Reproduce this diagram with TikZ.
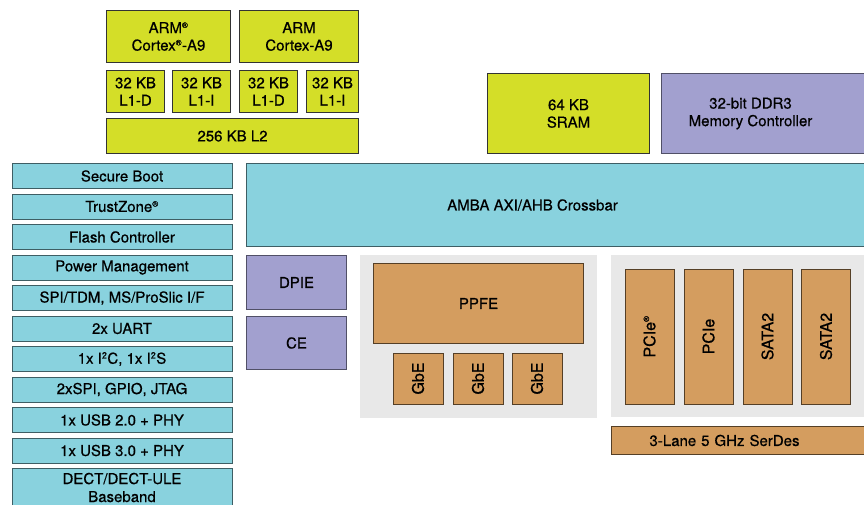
\documentclass[tikz,border=0pt]{standalone}
\usepackage{fontspec}
\setmainfont{TeX Gyre Heros}
\newfontfamily\blkfont{TeX Gyre Heros}[FakeBold=0.6]
\usepackage{xcolor}
\usepackage{tikz}
\usetikzlibrary{positioning}
\definecolor{lime}{HTML}{D4DE28}
\definecolor{aqua}{HTML}{89D2DE}
\definecolor{lilac}{HTML}{A2A0CF}
\definecolor{ochre}{HTML}{D49D5F}
\definecolor{panelbg}{HTML}{E8E8E8}
\tikzstyle{blk} = [rectangle, anchor=north west, inner sep=0pt, align=center, text=black, font=\blkfont\fontsize{15}{17.5}\selectfont, line width=1pt]
\tikzstyle{cpu} = [blk, fill=lime, draw=black!80]
\tikzstyle{bus} = [blk, fill=aqua, draw=aqua!45!black]
\tikzstyle{acc} = [blk, fill=lilac, draw=lilac!50!black]
\tikzstyle{eng} = [blk, fill=ochre, draw=ochre!40!black]
\tikzstyle{port} = [blk, anchor=center, fill=ochre, draw=ochre!40!black, font=\blkfont\fontsize{16}{18}\selectfont]
\tikzstyle{periph} = [bus, anchor=north, minimum width=220, minimum height=25]
\tikzstyle{panel} = [rectangle, anchor=north west, fill=panelbg, draw=none, inner sep=0pt]
\tikzstyle{offlabel} = [font=\blkfont\fontsize{15}{17.5}\selectfont, align=center, inner sep=0pt]
\newcommand{\reg}{\textsuperscript{\fontsize{8}{8}\selectfont\textregistered}}
\newcommand{\sq}{\textsuperscript{\fontsize{9}{9}\selectfont 2}}

\begin{document}
\begin{tikzpicture}[x=1pt, y=-1pt]
    \useasboundingbox (0,0) rectangle (864,504);

    % CPU cluster
    \node (arma) [cpu, minimum width=124, minimum height=52] at (106,10) {ARM\reg\\Cortex\reg-A9};
    \node (armb) [cpu, minimum width=119, minimum height=52] at (239,10) {ARM\\Cortex-A9};
    \node (ldA) [cpu, minimum width=58, minimum height=42] at (106,70) {32 KB\\L1-D};
    \node (liA) [cpu, minimum width=58, minimum height=42] at (172,70) {32 KB\\L1-I};
    \node (ldB) [cpu, minimum width=58, minimum height=42] at (239,70) {32 KB\\L1-D};
    \node (liB) [cpu, minimum width=52, minimum height=42] at (306,70) {32 KB\\L1-I};
    \node (ltwo) [cpu, minimum width=252, minimum height=35] at (106,118) {256 KB L2};

    % Memory
    \node (sram) [cpu, minimum width=162, minimum height=80] at (487,73) {64 KB\\SRAM};
    \node (ddr) [acc, minimum width=210, minimum height=80,
        label={[offlabel, xshift=-16pt]center:32-bit DDR3\\Memory Controller}] at (661,73) {};

    % Crossbar
    \node (xbar) [bus, minimum width=624, minimum height=83,
        label={[offlabel, xshift=-26pt]center:AMBA AXI/AHB Crossbar}] at (246,163) {};

    % Peripherals
    \node (sboot) [periph] at (122,163) {Secure Boot};
    \node (tzone) [periph, below=4.5pt of sboot] {TrustZone\reg};
    \node (flash) [periph, below=4.5pt of tzone] {Flash Controller};
    \node (power) [periph, below=4.5pt of flash] {Power Management};
    \node (spi) [periph, below=4.5pt of power] {SPI/TDM, MS/ProSlic I/F};
    \node (uart) [periph, below=4.5pt of spi] {2x UART};
    \node (iic) [periph, below=4.5pt of uart] {1x I\sq C, 1x I\sq S};
    \node (gpio) [periph, below=4.5pt of iic] {2xSPI, GPIO, JTAG};
    \node (usbii) [periph, below=4.5pt of gpio] {1x USB 2.0 + PHY};
    \node (usbiii) [periph, below=4.5pt of usbii] {1x USB 3.0 + PHY};
    \node (dect) [periph, below=4.5pt of usbiii, minimum height=38, font=\blkfont\fontsize{15}{18}\selectfont] {DECT/DECT-ULE\\Baseband};

    % Accelerators
    \node (dpie) [acc, minimum width=100, minimum height=54] at (246,255) {DPIE};
    \node (ce) [acc, minimum width=100, minimum height=53] at (246,316) {CE};

    % Packet engine
    \node (pktpanel) [panel, minimum width=237, minimum height=163] at (360,255) {};
    \node (ppfe) [eng, minimum width=210, minimum height=80] at (373,263) {PPFE};
    \foreach \n/\x in {gbeA/418, gbeB/478, gbeC/537}
        \node (\n) [port, minimum width=50, minimum height=51] at (\x,378.5) {\rotatebox{90}{GbE}};

    % High speed I/O
    \node (iopanel) [panel, minimum width=260, minimum height=162] at (611,255) {};
    \foreach \n/\x/\t in {pcieA/649.5/PCIe\reg, pcieB/708.5/PCIe, sataA/767.5/SATA2, sataB/826/SATA2}
        \node (\n) [port, minimum width=49, minimum height=135] at (\x,336.5) {\rotatebox{90}{\t}};
    \node (serdes) [eng, minimum width=260, minimum height=28, text width=250, align=left] at (611,426) {\hspace*{33pt}3-Lane 5 GHz SerDes};

\end{tikzpicture}
\end{document}
